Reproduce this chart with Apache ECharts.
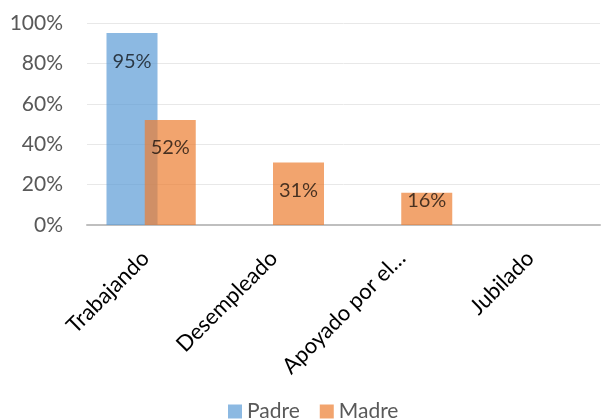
<!DOCTYPE html>
<html>
<head>
<meta charset="utf-8">
<script src="https://cdn.jsdelivr.net/npm/echarts@6/dist/echarts.min.js"></script>
<style>
  html, body { margin: 0; padding: 0; background: #fff; }
  #main { width: 601px; height: 420px; }
</style>
</head>
<body>
<div id="main"></div>
<script>
// categorias y valores (%)
var categorias = ['Trabajando', 'Desempleado', 'Apoyado por el…', 'Jubilado'];
var padre = [95, 0, 0, 0];
var madre = [52, 31, 16, 0];
var ticksY = [0, 20, 40, 60, 80, 100];

var fuente = 'Lato';

function etiquetas(valores, distancias) {
    return valores.map(function(v, i) {
        if (!v) return { value: v, label: { show: false } };
        return { value: v, label: { distance: distancias[i] } };
    });
}

var myChart = echarts.init(document.getElementById('main'));

var option = {
    animation: false,
    textStyle: { fontFamily: fuente },
    grid: {
        left: 87,
        right: 1,
        top: 23,
        bottom: 195
    },
    legend: {
        data: ['Padre', 'Madre'],
        left: 223,
        top: 396,
        itemWidth: 14,
        itemHeight: 14,
        itemGap: 20,
        icon: 'rect',
        textStyle: { fontSize: 21, color: '#595959', fontFamily: fuente }
    },
    xAxis: {
        type: 'category',
        data: categorias,
        axisLine: { lineStyle: { color: '#BFBFBF', width: 2 } },
        axisTick: { show: false },
        axisLabel: {
            rotate: 45,
            fontSize: 22,
            color: '#000',
            margin: 24,
            padding: [0, 8, 0, 0],
            interval: 0
        }
    },
    yAxis: {
        type: 'value',
        min: ticksY[0],
        max: ticksY[ticksY.length - 1],
        interval: 20,
        axisLine: { show: false },
        axisTick: { show: false },
        splitLine: { lineStyle: { color: '#E8E8E8', width: 1 } },
        axisLabel: {
            fontSize: 21,
            color: '#595959',
            margin: 24,
            formatter: '{value}%'
        }
    },
    series: [
        {
            name: 'Padre',
            type: 'bar',
            barWidth: 51,
            barGap: '-25%',
            data: etiquetas(padre, [18, 18, 18, 18]),
            itemStyle: { color: '#5B9BD5', opacity: 0.7 },
            label: {
                show: true,
                position: 'insideTop',
                formatter: '{c}%',
                fontSize: 20,
                color: '#000'
            }
        },
        {
            name: 'Madre',
            type: 'bar',
            barWidth: 51,
            data: etiquetas(madre, [18, 18, -2, 0]),
            itemStyle: { color: '#ED7D31', opacity: 0.7 },
            label: {
                show: true,
                position: 'insideTop',
                formatter: '{c}%',
                fontSize: 20,
                color: '#000'
            }
        }
    ]
};

myChart.setOption(option);
</script>
</body>
</html>
